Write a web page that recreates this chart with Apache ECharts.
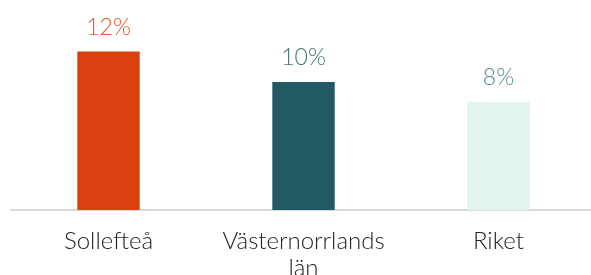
<!DOCTYPE html>
<html>
<head>
<meta charset="utf-8">
<script src="https://cdn.jsdelivr.net/npm/echarts@6/dist/echarts.min.js"></script>
<style>
  html, body { margin: 0; padding: 0; background: #fff; }
  #box { width: 591px; height: 275px; }
</style>
</head>
<body>
<div id="box"></div>
<script>
// omraden och andel
const categories = ['Sollefteå', 'Västernorrlands\nlän', 'Riket'];
const values = [0.12, 0.097, 0.082];
const barColors = ['#d9400f', '#215a62', '#e3f3f0'];
const labelColors = ['#e2582a', '#3f7479', '#55908f'];

const chart = echarts.init(document.getElementById('box'));

chart.setOption({
    animation: false,
    grid: {
        left: 11,
        top: 12,
        width: 585,
        bottom: 65,
        containLabel: false,
        outerBoundsMode: 'none'
    },
    xAxis: {
        type: 'category',
        data: categories,
        axisLine: { lineStyle: { color: '#d9d9d9', width: 2 } },
        axisTick: { show: false },
        axisLabel: {
            interval: 0,
            color: '#222',
            fontFamily: 'Lato',
            fontWeight: 300,
            fontSize: 24,
            lineHeight: 27,
            margin: 18
        }
    },
    yAxis: {
        type: 'value',
        min: 0,
        max: 0.15,
        show: false,
        splitLine: { show: false }
    },
    series: [
        {
            type: 'bar',
            barWidth: '32%',
            data: values.map((v, i) => ({
                value: v,
                itemStyle: { color: barColors[i] },
                label: { color: labelColors[i] }
            })),
            label: {
                show: true,
                position: 'top',
                distance: 13,
                fontFamily: 'Lato',
                fontWeight: 300,
                fontSize: 23,
                formatter: p => Math.round(p.value * 100) + '%'
            }
        }
    ]
});
</script>
</body>
</html>
